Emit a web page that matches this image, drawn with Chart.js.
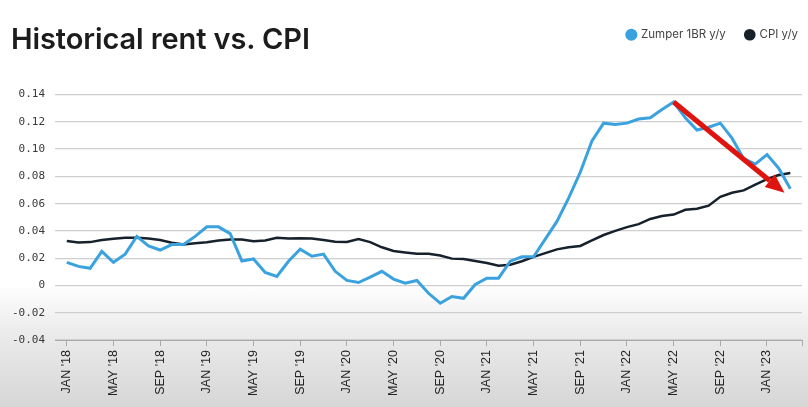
<!DOCTYPE html>
<html>
<head>
<meta charset="utf-8">
<script src="https://cdn.jsdelivr.net/npm/chart.js@4/dist/chart.umd.min.js"></script>
<style>
  html, body { margin: 0; padding: 0; }
  body {
    width: 808px; height: 407px; overflow: hidden; position: relative;
    background: linear-gradient(to bottom, #ffffff 0px, #ffffff 285px, #ececec 330px, #d6d6d6 407px);
  }
  #title {
    position: absolute; left: 11px; top: 21px;
    font-family: Inter, "Noto Sans", sans-serif; font-weight: 600; font-size: 29px;
    letter-spacing: -0.1px; color: #1c1c1c; line-height: 36px;
  }
  #wrap { position: absolute; left: 0; top: 0; width: 808px; height: 407px; }
</style>
</head>
<body>
<div id="wrap"><canvas id="c" width="808" height="407"></canvas></div>
<div id="title">Historical rent vs. CPI</div>
<script>
// Axis categories (Dec '17 .. Apr '23)
const axisMonths = ["DEC '17",
  "JAN '18","FEB '18","MAR '18","APR '18","MAY '18","JUN '18","JUL '18","AUG '18","SEP '18","OCT '18","NOV '18","DEC '18",
  "JAN '19","FEB '19","MAR '19","APR '19","MAY '19","JUN '19","JUL '19","AUG '19","SEP '19","OCT '19","NOV '19","DEC '19",
  "JAN '20","FEB '20","MAR '20","APR '20","MAY '20","JUN '20","JUL '20","AUG '20","SEP '20","OCT '20","NOV '20","DEC '20",
  "JAN '21","FEB '21","MAR '21","APR '21","MAY '21","JUN '21","JUL '21","AUG '21","SEP '21","OCT '21","NOV '21","DEC '21",
  "JAN '22","FEB '22","MAR '22","APR '22","MAY '22","JUN '22","JUL '22","AUG '22","SEP '22","OCT '22","NOV '22","DEC '22",
  "JAN '23","FEB '23","MAR '23","APR '23"];

// Data months (Jan '18 .. Mar '23)
const dataMonths = axisMonths.slice(1, 64);

const zumper1BR = [
  0.017, 0.014, 0.0126, 0.025, 0.017, 0.023, 0.036, 0.029, 0.026, 0.030, 0.030, 0.036,
  0.043, 0.043, 0.038, 0.018, 0.0195, 0.0096, 0.0067, 0.0178, 0.0266, 0.0215, 0.023, 0.0104,
  0.0037, 0.0022, 0.0061, 0.0104, 0.0047, 0.0017, 0.0037, -0.0057, -0.013, -0.0081, -0.0094, 0.0007,
  0.0054, 0.0054, 0.0178, 0.021, 0.021, 0.034, 0.047, 0.064, 0.083, 0.106, 0.119, 0.118,
  0.119, 0.122, 0.123, 0.129, 0.1345, 0.123, 0.114, 0.116, 0.119, 0.108, 0.093, 0.089,
  0.096, 0.086, 0.071
];

const cpi = [
  0.0326, 0.0315, 0.0318, 0.0333, 0.0343, 0.035, 0.035, 0.0345, 0.0333, 0.0314, 0.0301, 0.031,
  0.0317, 0.033, 0.0338, 0.0337, 0.0324, 0.033, 0.035, 0.0345, 0.0346, 0.0345, 0.0333, 0.0321,
  0.0319, 0.034, 0.0318, 0.028, 0.0253, 0.0242, 0.0232, 0.0232, 0.022, 0.0197, 0.0194, 0.018,
  0.0165, 0.0145, 0.0152, 0.0178, 0.021, 0.0237, 0.0265, 0.028, 0.029, 0.033, 0.037, 0.040,
  0.0428, 0.045, 0.0488, 0.051, 0.052, 0.0555, 0.0563, 0.0585, 0.065, 0.068, 0.0697, 0.074,
  0.078, 0.081, 0.0825
];

const yTicks = [-0.04, -0.02, 0, 0.02, 0.04, 0.06, 0.08, 0.10, 0.12, 0.14];

// Red arrow annotation (month label, value)
const arrowStart = { month: "MAY '22", value: 0.1345 };
const arrowEnd = { months: ["FEB '23", "MAR '23"], value: 0.068 };

const arrowPlugin = {
  id: 'arrow',
  afterDatasetsDraw(chart) {
    const xs = chart.scales.x, ys = chart.scales.y, ctx = chart.ctx;
    const x1 = xs.getPixelForValue(axisMonths.indexOf(arrowStart.month));
    const y1 = ys.getPixelForValue(arrowStart.value);
    const x2 = (xs.getPixelForValue(axisMonths.indexOf(arrowEnd.months[0])) +
                xs.getPixelForValue(axisMonths.indexOf(arrowEnd.months[1]))) / 2;
    const y2 = ys.getPixelForValue(arrowEnd.value);
    const ang = Math.atan2(y2 - y1, x2 - x1);
    const headLen = 19, headW = 8;
    const bx = x2 - headLen * Math.cos(ang), by = y2 - headLen * Math.sin(ang);
    ctx.save();
    ctx.strokeStyle = '#e0140e';
    ctx.fillStyle = '#e0140e';
    ctx.lineWidth = 5;
    ctx.lineCap = 'butt';
    ctx.beginPath();
    ctx.moveTo(x1, y1);
    ctx.lineTo(bx, by);
    ctx.stroke();
    ctx.beginPath();
    ctx.moveTo(x2, y2);
    ctx.lineTo(bx + headW * Math.sin(ang), by - headW * Math.cos(ang));
    ctx.lineTo(bx - headW * Math.sin(ang), by + headW * Math.cos(ang));
    ctx.closePath();
    ctx.fill();
    ctx.restore();
  }
};

// Extra room below the legend so the plot starts lower; nudge legend to the right edge
const legendSpacer = {
  id: 'legendSpacer',
  beforeInit(chart) {
    const legend = chart.legend;
    const fit = legend.fit;
    legend.fit = function () {
      fit.call(this);
      this.height += 43;
    };
    const draw = legend.draw;
    legend.draw = function () {
      this.ctx.save();
      this.ctx.translate(16, -1);
      draw.apply(this, arguments);
      this.ctx.restore();
    };
  }
};

new Chart(document.getElementById('c'), {
  type: 'line',
  data: {
    labels: axisMonths,
    datasets: [
      {
        label: 'Zumper 1BR y/y',
        data: dataMonths.map((m, i) => ({ x: m, y: zumper1BR[i] })),
        borderColor: '#3aa2de', backgroundColor: '#3aa2de',
        borderWidth: 3, pointRadius: 0, tension: 0
      },
      {
        label: 'CPI y/y',
        data: dataMonths.map((m, i) => ({ x: m, y: cpi[i] })),
        borderColor: '#17212b', backgroundColor: '#17212b',
        borderWidth: 2.5, pointRadius: 0, tension: 0
      }
    ]
  },
  options: {
    responsive: false,
    animation: false,
    layout: { padding: { top: 10, right: 6, left: 2, bottom: 7 } },
    plugins: {
      legend: {
        position: 'top', align: 'end',
        labels: {
          usePointStyle: true, pointStyle: 'circle', boxWidth: 8, boxHeight: 6.5,
          color: '#444', font: { family: 'Inter, "Noto Sans", sans-serif', size: 11.5 },
          padding: 20
        }
      },
      tooltip: { enabled: false }
    },
    scales: {
      x: {
        type: 'category',
        offset: false,
        afterFit: (scale) => { scale.paddingRight = 0; },
        border: { display: true, color: '#aaaaaa', width: 1 },
        grid: { drawOnChartArea: false, drawTicks: true, tickLength: 6, color: '#aaaaaa' },
        ticks: {
          autoSkip: false, maxRotation: 90, minRotation: 90, padding: 4,
          color: '#262626', font: { family: '"Liberation Sans", Arial, sans-serif', size: 12.5 },
          callback: function (v, i) {
            if (i === axisMonths.length - 1) return '';
            return (i % 4 === 1) ? axisMonths[i] : null;
          }
        }
      },
      y: {
        min: -0.04, max: 0.14,
        afterBuildTicks: (axis) => { axis.ticks = yTicks.map(v => ({ value: v })); },
        border: { display: false },
        grid: { drawTicks: false, color: '#cfcfcf', lineWidth: 1.2, borderDash: [1.5, 3] },
        ticks: {
          padding: 10, color: '#3a3a3a',
          font: { family: '"DejaVu Sans Mono", monospace', size: 11 },
          callback: (v) => (Math.abs(v) < 1e-9 ? '0' : v.toFixed(2))
        }
      }
    }
  },
  plugins: [arrowPlugin, legendSpacer]
});
</script>
</body>
</html>
